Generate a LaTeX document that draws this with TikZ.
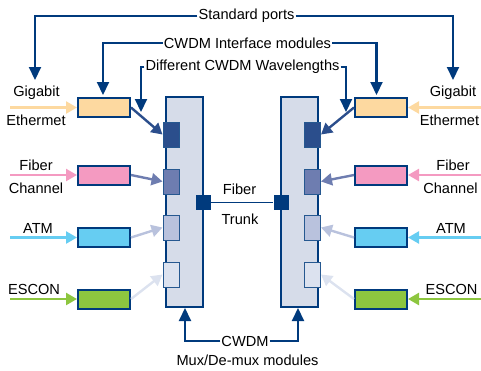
\documentclass[tikz,border=0pt]{standalone}
\usepackage{fontspec}
\setmainfont{Liberation Sans}
\usetikzlibrary{arrows.meta}
\definecolor{navy}{HTML}{003A7D}
\definecolor{muxfill}{HTML}{D6DCE9}
\definecolor{sqA}{HTML}{2B4E8C}
\definecolor{sqB}{HTML}{6E7DB0}
\definecolor{sqC}{HTML}{B9C2DD}
\definecolor{sqD}{HTML}{DCE2EF}
\definecolor{ge}{HTML}{FDD9A0}
\definecolor{fc}{HTML}{F49AC1}
\definecolor{atm}{HTML}{66CDF2}
\definecolor{esc}{HTML}{8DC63F}
\tikzset{
  lbl/.style={font=\fontsize{14.6}{15}\selectfont, inner sep=1pt},
  mux/.style={draw=navy, line width=1.8pt, fill=muxfill, minimum width=37pt, minimum height=210pt, inner sep=0pt},
  sq/.style={draw=navy!85, line width=1pt, minimum width=16pt, minimum height=25pt, inner sep=0pt},
  trunk/.style={fill=navy, minimum size=15pt, inner sep=0pt},
  modbox/.style={draw=navy, line width=2pt, minimum width=52pt, minimum height=19pt, inner sep=0pt},
  callout/.style={draw=navy, line width=2.1pt, -{Triangle[length=13pt,width=12pt]}},
  feed/.style={line width=2.4pt, -{Triangle[length=11pt,width=12pt]}},
}
\begin{document}
\begin{tikzpicture}[x=1pt,y=-1pt]
\useasboundingbox (0,0) rectangle (481,370);
% mux boxes
\node[mux] (muxL) at (184.5,202) {};
\node[mux] (muxR) at (299.5,202) {};
% squares
\node[sq, fill=sqA] (l1) at (171,134.5) {};
\node[sq, fill=sqB] (l2) at (171,181.5) {};
\node[sq, fill=sqC] (l3) at (171,227.5) {};
\node[sq, fill=sqD] (l4) at (171,274.5) {};
\node[sq, fill=sqA] (r1) at (312.5,134.5) {};
\node[sq, fill=sqB] (r2) at (312.5,181.5) {};
\node[sq, fill=sqC] (r3) at (312.5,227.5) {};
\node[sq, fill=sqD] (r4) at (312.5,274.5) {};
% trunk
\node[trunk] (tL) at (203,202.5) {};
\node[trunk] (tR) at (281,202.5) {};
\draw[navy, line width=1.8pt] (tL) -- (tR);
\node[lbl] (fib) at (239.5,189) {Fiber};
\node[lbl] (trk) at (240,219) {Trunk};
% module boxes
\node[modbox, fill=ge] (mL1) at (104,107.5) {};
\node[modbox, fill=fc] (mL2) at (104,175) {};
\node[modbox, fill=atm] (mL3) at (104,237.5) {};
\node[modbox, fill=esc] (mL4) at (104,299) {};
\node[modbox, fill=ge] (mR1) at (381,107.5) {};
\node[modbox, fill=fc] (mR2) at (381,175) {};
\node[modbox, fill=atm] (mR3) at (381,237.5) {};
\node[modbox, fill=esc] (mR4) at (381,299) {};
% module to square
\draw[feed, sqA] (mL1.east) -- (l1.west);
\draw[feed, sqB] (mL2.east) -- (l2.west);
\draw[feed, sqC] (mL3.east) -- (l3.west);
\draw[feed, sqD] (mL4.east) -- (l4.west);
\draw[feed, sqA] (mR1.west) -- (r1.east);
\draw[feed, sqB] (mR2.west) -- (r2.east);
\draw[feed, sqC] (mR3.west) -- (r3.east);
\draw[feed, sqD] (mR4.west) -- (r4.east);
% inputs
\coordinate (iL1) at (10,107.5); \coordinate (iR1) at (481,107.5);
\coordinate (iL2) at (10,175);   \coordinate (iR2) at (481,175);
\coordinate (iL3) at (10,237.5); \coordinate (iR3) at (481,237.5);
\coordinate (iL4) at (10,299);   \coordinate (iR4) at (481,299);
\draw[feed, ge] (iL1) -- (mL1.west);
\draw[feed, fc] (iL2) -- (mL2.west);
\draw[feed, atm] (iL3) -- (mL3.west);
\draw[feed, esc] (iL4) -- (mL4.west);
\draw[feed, ge] (iR1) -- (mR1.east);
\draw[feed, fc] (iR2) -- (mR2.east);
\draw[feed, atm] (iR3) -- (mR3.east);
\draw[feed, esc] (iR4) -- (mR4.east);
% input labels
\node[lbl] (gL) at (36.5,93) {Gigabit};
\node[lbl] (eL) at (36,120) {Ethermet};
\node[lbl] (fL) at (36,165) {Fiber};
\node[lbl] (cL) at (36,188) {Channel};
\node[lbl] (aL) at (38,228) {ATM};
\node[lbl] (sL) at (34,289) {ESCON};
\node[lbl] (gR) at (453,93) {Gigabit};
\node[lbl] (eR) at (449.5,120) {Ethermet};
\node[lbl] (fR) at (453,165) {Fiber};
\node[lbl] (cR) at (450.5,188) {Channel};
\node[lbl] (aR) at (451,228) {ATM};
\node[lbl] (sR) at (451.5,289) {ESCON};
% callouts
\node[lbl] (std) at (246.5,16) {Standard ports};
\coordinate (stdL) at (35,80); \coordinate (stdR) at (453,80);
\draw[callout] (std.west) -| (stdL);
\draw[callout] (std.east) -| (stdR);
\node[lbl] (cim) at (247.5,43) {CWDM Interface modules};
\coordinate (cimL) at (103,95); \coordinate (cimR) at (376.5,95);
\draw[callout] (cim.west) -| (cimL);
\draw[callout] (cim.east) -| (cimR);
\node[lbl] (dcw) at (242.5,67) {Different CWDM Wavelengths};
\coordinate (dcwL) at (141,112); \coordinate (dcwR) at (346,112);
\draw[callout] (dcw.west) -| (dcwL);
\draw[callout] (dcw.east) -| (dcwR);
\node[lbl] (cwdm) at (245,341) {CWDM};
\node[lbl] (mdm) at (247.5,360) {Mux/De-mux modules};
\coordinate (mxL) at (185,308); \coordinate (mxR) at (298,308);
\draw[callout] (cwdm.west) -| (mxL);
\draw[callout] (cwdm.east) -| (mxR);
\end{tikzpicture}
\end{document}
